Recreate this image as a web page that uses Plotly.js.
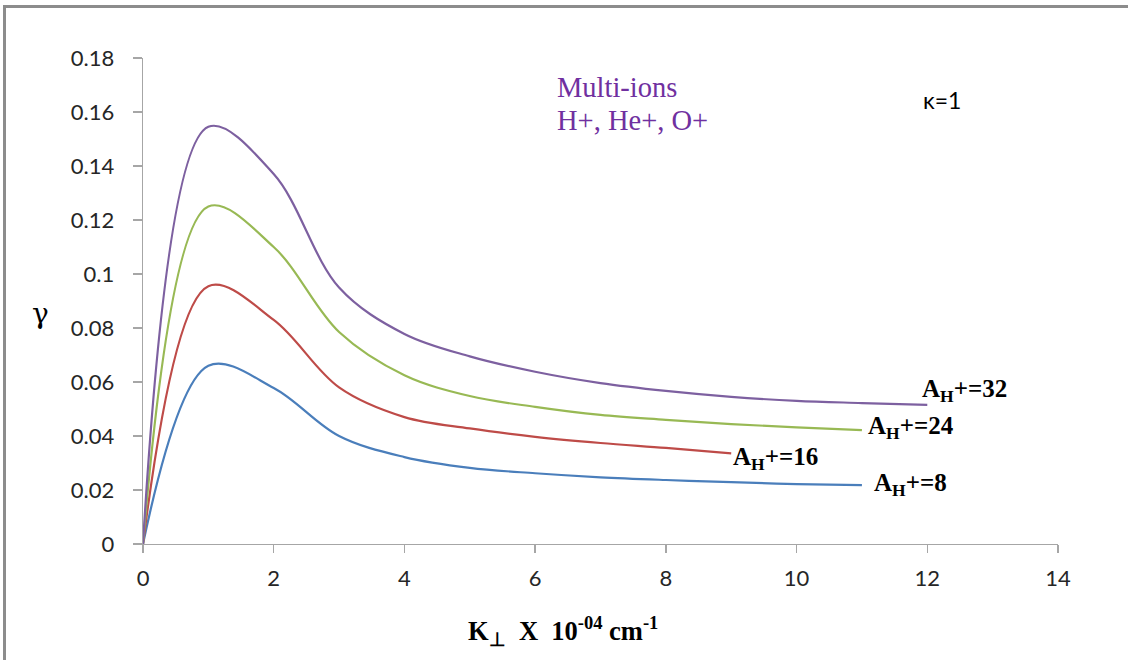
<!DOCTYPE html>
<html>
<head>
<meta charset="utf-8">
<script src="https://cdn.plot.ly/plotly-3.0.1.min.js"></script>
<style>
html,body{margin:0;padding:0;background:#fff;}
#wrap{position:relative;width:1128px;height:660px;overflow:hidden;}
#chart{position:absolute;left:0;top:0;width:1128px;height:660px;}
#frame{position:absolute;left:3px;top:5px;width:1200px;height:700px;border-left:3px solid #8c8c8c;border-top:3px solid #8c8c8c;pointer-events:none;}
</style>
</head>
<body>
<div id="wrap"><div id="chart"></div><div id="frame"></div></div>
<script>
// Data
const xK = [0,1,2,3,4,5,6,7,8,9,10,11,12];
const gammaA8  = [0,0.0660,0.0578,0.0400,0.0322,0.0282,0.0262,0.0247,0.0237,0.0229,0.0222,0.0218];
const gammaA16 = [0,0.0955,0.0830,0.0580,0.0470,0.0428,0.0397,0.0374,0.0356,0.0336];
const gammaA24 = [0,0.1250,0.1100,0.0785,0.0625,0.0548,0.0508,0.0478,0.0460,0.0444,0.0432,0.0422];
const gammaA32 = [0,0.1545,0.1370,0.0950,0.0778,0.0695,0.0638,0.0596,0.0567,0.0545,0.0530,0.0522,0.0515];
const seriesNames = ["A<sub>H</sub>+=8","A<sub>H</sub>+=16","A<sub>H</sub>+=24","A<sub>H</sub>+=32"];
const xTickVals = [0,2,4,6,8,10,12,14];
const xTickText = ["0","2","4","6","8","10","12","14"];
const yTickVals = [0,0.02,0.04,0.06,0.08,0.1,0.12,0.14,0.16,0.18];
const yTickText = ["0","0.02","0.04","0.06","0.08","0.1","0.12","0.14","0.16","0.18"];

const colors = ["#4A7EBB","#BE4B48","#98B954","#7D60A0"];
const ys = [gammaA8, gammaA16, gammaA24, gammaA32];

const traces = ys.map((y,i)=>({
  x: xK.slice(0,y.length), y: y, mode:'lines', type:'scatter',
  name: seriesNames[i],
  line:{color:colors[i], width:2.2, shape:'spline', smoothing:1.0},
  hoverinfo:'skip'
}));

const labelFont = {family:'"Liberation Serif","Times New Roman",serif', size:25, color:'#000'};
const labelPos = [[11.16,0.0219],[9.0,0.0315],[11.06,0.0433],[11.89,0.057]];

const annotations = labelPos.map((p,i)=>({
  x:p[0], y:p[1], xref:'x', yref:'y', xanchor:'left', yanchor:'middle',
  text:'<b>'+seriesNames[i]+'</b>', showarrow:false, font:labelFont
}));
annotations.push(
  {x:6.30, y:0.1689, xref:'x', yref:'y', xanchor:'left', yanchor:'middle', showarrow:false,
   text:'Multi-ions', font:{family:'"Liberation Serif","Times New Roman",serif', size:28.5, color:'#7030A0'}},
  {x:6.30, y:0.1570, xref:'x', yref:'y', xanchor:'left', yanchor:'middle', showarrow:false,
   text:'H+, He+, O+', font:{family:'"Liberation Serif","Times New Roman",serif', size:28.5, color:'#7030A0'}},
  {x:11.91, y:0.1644, xref:'x', yref:'y', xanchor:'left', yanchor:'middle', showarrow:false,
   text:'\u03ba=1', font:{family:'Lato, Carlito, sans-serif', size:23, color:'#000'}},
  {x:0.459, y:-0.178, xref:'paper', yref:'paper', xanchor:'center', yanchor:'middle', showarrow:false,
   text:'<b>K<sub>\u22a5</sub>\u00a0\u00a0X\u00a0\u00a010<sup>-04</sup> cm<sup>-1</sup></b>',
   font:{family:'"Liberation Serif","Times New Roman",serif', size:26.5, color:'#000'}},
  {x:-0.1115, y:0.475, xref:'paper', yref:'paper', xanchor:'center', yanchor:'middle', showarrow:false,
   text:'\u03b3', font:{family:'"DejaVu Serif","Liberation Serif",serif', size:28, color:'#000'}}
);

const axisCommon = {
  showgrid:false, zeroline:false, showline:true, linecolor:'#a6a6a6', linewidth:1.3,
  ticks:'outside', tickcolor:'#a6a6a6', tickwidth:1.3,
  tickfont:{family:'Lato, Carlito, sans-serif', size:22, color:'#262626'}
};

const layout = {
  width:1128, height:660,
  margin:{l:143, r:70, t:58, b:116},
  paper_bgcolor:'#fff', plot_bgcolor:'#fff',
  showlegend:false,
  xaxis: Object.assign({}, axisCommon, {range:[0,14], tickmode:'array', tickvals:xTickVals, ticktext:xTickText, ticklen:8, ticklabelstandoff:6}),
  yaxis: Object.assign({}, axisCommon, {range:[0,0.18], tickmode:'array', tickvals:yTickVals, ticktext:yTickText, ticklen:9, ticklabelstandoff:14}),
  annotations: annotations
};

Plotly.newPlot('chart', traces, layout, {staticPlot:true, displayModeBar:false});
</script>
</body>
</html>
